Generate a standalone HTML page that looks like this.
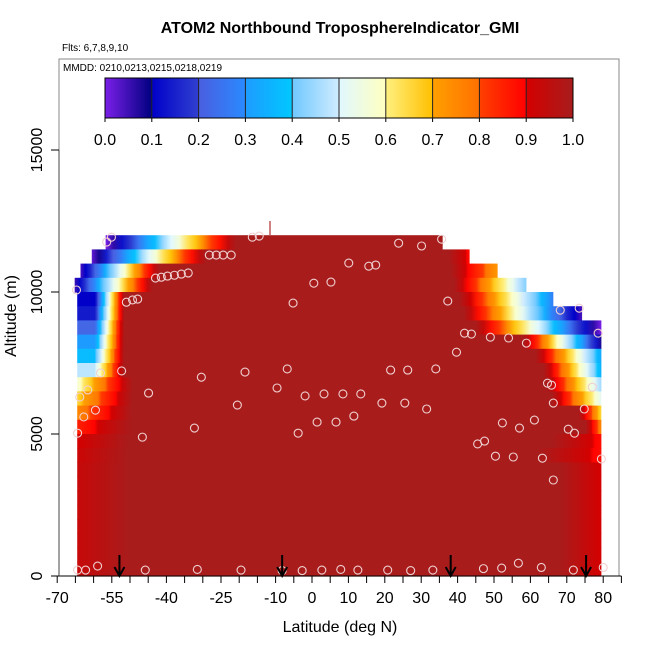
<!DOCTYPE html>
<html><head><meta charset="utf-8">
<style>
html,body{margin:0;padding:0;background:#fff;}
svg{display:block;font-family:"Liberation Sans",sans-serif;}
</style></head>
<body>
<svg id="chart" width="650" height="650" viewBox="0 0 650 650" xmlns="http://www.w3.org/2000/svg">
  <defs id="defs"></defs>
  <text x="340" y="33" text-anchor="middle" font-size="16" font-weight="bold">ATOM2 Northbound TroposphereIndicator_GMI</text>
  <text x="62" y="51" font-size="10">Flts: 6,7,8,9,10</text>
  <rect x="59" y="59" width="560" height="517" fill="none" stroke="#888" stroke-width="1"/>
  <g id="curtain"></g>
  <g id="points"></g>
  <g id="arrows"></g>
  <line x1="270" y1="221" x2="270" y2="235" stroke="#b03030" stroke-width="1.2"/>
  <text x="63" y="71" font-size="10">MMDD: 0210,0213,0215,0218,0219</text>
  <g id="colorbar"></g>
  <g id="xaxis"></g>
  <g id="yaxis"></g>
  <text x="340" y="632" text-anchor="middle" font-size="16">Latitude (deg N)</text>
  <text x="16" y="316" text-anchor="middle" font-size="16" transform="rotate(-90 16 316)">Altitude (m)</text>
</svg>
<script>
// ---- data ----
const rowAltBottom = [11500,11000,10500,10000,9500,9000,8500,8000,7500,7000,6500,6000,5500,5000,4500,4000,3500,3000,2500,2000,1500,1000,500,0];
const rowLeftStart = [-56.7,-60.5,-63.6,-65.2,-64.5,-64.5,-64.5,-64.5,-64.5,-64.5,-64.5,-64.5,-64.5,-64.5,-64.5,-64.5,-64.5,-64.5,-64.5,-64.5,-64.5,-64.5,-64.5,-64.5];
const rowLeftValue = [0,0.02,0.04,0.05,0.1,0.14,0.22,0.3,0.37,0.48,0.57,0.66,0.75,0.85,0.9,0.92,0.93,0.93,0.93,0.93,0.93,0.93,0.93,0.93];
const rowLeftFlat  = [-56.7,-60.5,-63.6,-65.2,-59.7,-59.7,-59.7,-59.7,-59.7,-59.7,-64.5,-64.5,-64.5,-64.5,-64.5,-64.5,-64.5,-64.5,-64.5,-64.5,-64.5,-64.5,-64.5,-64.5];
const rowLeftEnd   = [-20.8,-29,-41.9,-43.8,-51.5,-51.5,-51.5,-51.5,-51.5,-51.5,-49.3,-49.3,-49.3,-49.3,-50,-50,-50,-50,-50,-50,-50,-50,-50,-50];
const rowRightStart= [35.9,37.5,38.1,38.9,40.3,41.6,44.9,58,61.4,63.6,64.4,65.8,73.2,75.1,65.8,62,68,68,68,68,68,68,68,68];
const rowRightEnd  = [35.9,43.3,51,58.9,66.3,74.2,79.5,79.5,79.5,79.5,79.5,79.5,79.5,79.5,79.5,79.5,79.5,79.5,79.5,79.5,79.5,79.5,79.5,79.5];
const rowRightValue= [1,0.88,0.72,0.42,0.27,0.04,0,0.08,0.33,0.35,0.45,0.52,0.65,0.75,0.88,0.88,0.9,0.9,0.9,0.9,0.9,0.9,0.9,0.9];

const pointLat = [-55.1,-56.4,-28.2,-26.3,-24.4,-22.2,-43.0,-41.4,-39.7,-37.8,-35.9,-34.0,-64.7,-51.0,-49.3,-47.9,-58.1,-52.3,-30.4,-18.4,-61.6,-63.8,-44.9,-20.5,-59.5,-62.7,-64.4,-32.3,-46.6,
 -16.4,-14.5,35.6,23.8,30.1,10.1,15.6,17.5,0.5,5.2,-5.2,
 37.3,41.9,43.8,49.0,54.0,58.9,39.7,68.2,73.4,78.6,64.7,65.8,77.0,66.3,74.8,31.5,52.3,57.0,61.1,70.4,72.1,47.4,45.5,50.4,55.3,63.3,79.5,66.3,
 -6.8,-9.6,-1.9,3.3,8.5,13.4,21.6,26.3,34.0,19.2,25.5,11.5,1.4,6.6,-3.8,
 -64.4,-62.2,-58.9,-45.8,-31.5,-19.5,-8.2,-2.7,2.7,7.9,12.6,20.8,27.1,33.2,47.1,52.1,56.7,63.0,71.8,80.0];
const pointAlt = [11930,11760,11300,11300,11300,11300,10490,10520,10560,10590,10630,10670,10070,9640,9720,9750,7150,7220,7000,7180,6550,6300,6440,6020,5840,5600,5030,5210,4890,
 11930,11970,11860,11720,11620,11020,10910,10950,10310,10350,9610,
 9680,8550,8520,8410,8380,8200,7880,9360,9430,8550,6790,6720,6650,6090,5880,5880,5390,5210,5490,5170,5030,4750,4650,4220,4190,4150,4120,3380,
 7290,6620,6340,6410,6410,6410,7250,7250,7290,6090,6090,5630,5420,5420,5030,
 210,210,350,210,230,210,190,190,210,230,210,210,190,210,260,280,450,300,210,300];
const arrowLat = [-52.9,-8.2,38.1,75.3];

const xTickValues = [-70,-65,-60,-55,-50,-45,-40,-35,-30,-25,-20,-15,-10,-5,0,5,10,15,20,25,30,35,40,45,50,55,60,65,70,75,80,85];
const xTickLabels = ["-70","-55","-40","-25","-10","0","10","20","30","40","50","60","70","80"];
const yTickValues = [0,5000,10000,15000];
const cbTickLabels = ["0.0","0.1","0.2","0.3","0.4","0.5","0.6","0.7","0.8","0.9","1.0"];

// colormap stops
const cmapVals = [0,0.0999,0.1,0.1999,0.2,0.2999,0.3,0.3999,0.4,0.4999,0.5,0.5999,0.6,0.6999,0.7,0.7999,0.8,0.8999,0.9,1.0];
const cmapCols = ["#7b1fe8","#000080","#0000c8","#3040d0","#4a5ee0","#2a8aff","#1e9bff","#00c8ff","#6ec8ff","#d0ecff","#e0f8ff","#ffffc0","#fff080","#ffc000","#ffa000","#ff7000","#ff4000","#ff0000","#d40000","#a81c1c"];

// ---- scales ----
const xs = lat => 312 + lat*3.64;
const ys = alt => 576 - alt*0.0284;
const NS='http://www.w3.org/2000/svg';
function mk(tag, attrs, parent){const e=document.createElementNS(NS,tag);for(const k in attrs)e.setAttribute(k,attrs[k]);parent.appendChild(e);return e;}
function hex2rgb(h){return [parseInt(h.substr(1,2),16),parseInt(h.substr(3,2),16),parseInt(h.substr(5,2),16)];}
function cmap(v){
  v=Math.max(0,Math.min(1,v));
  for(let i=0;i<cmapVals.length-1;i++){
    if(v<=cmapVals[i+1]){
      const t=(v-cmapVals[i])/((cmapVals[i+1]-cmapVals[i])||1);
      const a=hex2rgb(cmapCols[i]),b=hex2rgb(cmapCols[i+1]);
      return 'rgb('+a.map((c,j)=>Math.round(c+(b[j]-c)*t)).join(',')+')';
    }
  }
  return cmapCols[cmapCols.length-1];
}
const defs=document.getElementById('defs');

// ---- curtain ----
const curtain=document.getElementById('curtain');
rowAltBottom.forEach((ab,i)=>{
  const x0=xs(rowLeftStart[i]), x1=xs(rowRightEnd[i]);
  const w=x1-x0;
  const gid='rowg'+i;
  const g=mk('linearGradient',{id:gid,x1:'0',y1:'0',x2:'1',y2:'0'},defs);
  const stops=[];
  stops.push([0,rowLeftValue[i]]);
  const lf=xs(rowLeftFlat[i]), le=xs(rowLeftEnd[i]);
  stops.push([(lf-x0)/w,rowLeftValue[i]]);
  const N=16;
  for(let k=1;k<=N;k++){const xx=lf+(le-lf)*k/N;stops.push([(xx-x0)/w,rowLeftValue[i]+(1-rowLeftValue[i])*k/N]);}
  const rs=xs(rowRightStart[i]);
  stops.push([(rs-x0)/w,1]);
  for(let k=1;k<=N;k++){const xx=rs+(x1-rs)*k/N;stops.push([(xx-x0)/w,1+(rowRightValue[i]-1)*k/N]);}
  stops.forEach(s=>mk('stop',{offset:Math.max(0,Math.min(1,s[0])),'stop-color':cmap(s[1])},g));
  const r=mk('rect',{x:x0,y:ys(ab+500),width:w,height:ys(ab)-ys(ab+500)+0.6,fill:'url(#'+gid+')'},curtain);
  
  
});

// ---- points ----
const pts=document.getElementById('points');
pointLat.forEach((la,i)=>{
  const c=mk('circle',{cx:xs(la),cy:ys(pointAlt[i]),r:4,fill:'none',stroke:'#f0d0d0','stroke-width':1.1},pts);
  
  
});

// ---- arrows ----
const arr=document.getElementById('arrows');
arrowLat.forEach(la=>{
  const x=xs(la);
  const g=mk('g',{},arr);
  
  
  mk('line',{x1:x,y1:555,x2:x,y2:575,stroke:'#000','stroke-width':2},g);
  mk('polyline',{points:(x-5)+',567 '+x+',576 '+(x+5)+',567',fill:'none',stroke:'#000','stroke-width':2},g);
});

// ---- colorbar ----
const cb=document.getElementById('colorbar');
const cbx0=105,cbx1=573,cby0=78,cby1=118;
const cg=mk('linearGradient',{id:'cbg',x1:'0',y1:'0',x2:'1',y2:'0'},defs);
cmapVals.forEach((v,i)=>mk('stop',{offset:v,'stop-color':cmapCols[i]},cg));
const cbr=mk('rect',{x:cbx0,y:cby0,width:cbx1-cbx0,height:cby1-cby0,fill:'url(#cbg)',stroke:'#000','stroke-width':1},cb);


cbTickLabels.forEach((lab,i)=>{
  const x=cbx0+(cbx1-cbx0)*i/10;
  if(i>0&&i<10) mk('line',{x1:x,y1:cby0,x2:x,y2:cby1,stroke:'#222','stroke-width':1},cb);
  mk('line',{x1:x,y1:cby1,x2:x,y2:cby1+4,stroke:'#000','stroke-width':1},cb);
  const t=mk('text',{x:x,y:145,'text-anchor':'middle','font-size':16},cb);
  t.textContent=lab;
  
  
});

// ---- x axis ----
const xa=document.getElementById('xaxis');
mk('line',{x1:xs(-70),y1:576,x2:xs(85),y2:576,stroke:'#000','stroke-width':1},xa);
xTickValues.forEach(v=>mk('line',{x1:xs(v),y1:576,x2:xs(v),y2:583,stroke:'#000','stroke-width':1},xa));
xTickLabels.forEach(lab=>{
  const t=mk('text',{x:xs(parseFloat(lab)),y:603,'text-anchor':'middle','font-size':16},xa);
  t.textContent=lab;
  
  
});

// ---- y axis ----
const ya=document.getElementById('yaxis');
mk('line',{x1:59,y1:ys(0),x2:59,y2:ys(15000),stroke:'#444','stroke-width':1},ya);
yTickValues.forEach(v=>{
  mk('line',{x1:51,y1:ys(v),x2:59,y2:ys(v),stroke:'#000','stroke-width':1},ya);
  const t=mk('text',{x:42,y:ys(v),'text-anchor':'middle','font-size':16,transform:'rotate(-90 42 '+ys(v)+')'},ya);
  t.textContent=String(v);
  
  
});
</script>
</body></html>
